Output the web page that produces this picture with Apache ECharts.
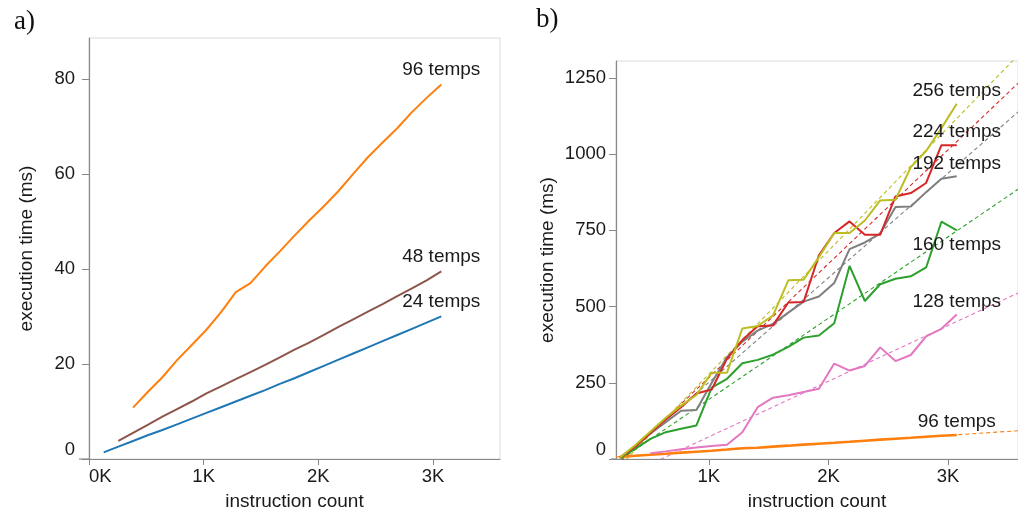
<!DOCTYPE html>
<html>
<head>
<meta charset="utf-8">
<script src="https://cdn.jsdelivr.net/npm/echarts@6/dist/echarts.min.js"></script>
<style>
  html, body { margin: 0; padding: 0; background: #fff; }
  #chart { width: 1018px; height: 519px; }
</style>
</head>
<body>
<div id="chart"></div>
<script>
// Instruction counts of the benchmark programs (x values, shared by both panels)
const instructionCounts = [128, 256, 384, 512, 640, 768, 896, 1024, 1152, 1280, 1408, 1536,
  1664, 1792, 1920, 2048, 2176, 2304, 2432, 2560, 2688, 2816, 2944, 3072];

// Panel a) execution time (ms) with few temporaries
const temps24 = [1.4, 2.6, 3.8, 5.0, 6.1, 7.3, 8.5, 9.7, 10.9, 12.1, 13.3, 14.5,
  15.8, 17.0, 18.3, 19.6, 20.9, 22.2, 23.5, 24.8, 26.1, 27.4, 28.7, 30.0];
const temps48 = [null, 3.8, 5.5, 7.2, 8.9, 10.5, 12.1, 13.8, 15.3, 16.8, 18.3, 19.8,
  21.4, 23.0, 24.5, 26.1, 27.8, 29.4, 31.0, 32.6, 34.3, 35.9, 37.6, 39.5];
const temps96 = [null, null, 10.8, 14.1, 17.2, 20.8, 24.0, 27.2, 30.9, 35.1, 37.0, 40.5,
  43.7, 47.0, 50.2, 53.2, 56.4, 60.0, 63.5, 66.6, 69.6, 73.0, 76.0, 78.8];

// Panel b) execution time (ms) with many temporaries
const temps96b = [null, 6.5, 10.8, 14.1, 17.2, 20.8, 24.0, 27.2, 30.9, 35.1, 37.0, 40.5,
  43.7, 47.0, 50.2, 53.2, 56.4, 60.0, 63.5, 66.6, 69.6, 73.0, 76.0, 78.8];
const temps128 = [null, null, null, 19, 25, 32, 38, 43, 47, 88, 170, 201,
  209, 220, 230, 313, 290, 305, 366, 321, 341, 402, 427, 474];
const temps160 = [null, 3, 33, 66, 88, 99, 110, 234, 263, 314, 325, 342,
  368, 398, 405, 445, 633, 518, 573, 591, 599, 628, 778, 750];
const temps192 = [null, 5, 40, 84, 121, 158, 161, 250, 334, 385, 421, 443,
  480, 516, 533, 577, 688, 710, 739, 826, 828, 875, 919, 927];
const temps224 = [null, 5, 40, 85, 130, 170, 215, 228, 329, 390, 435, 438,
  513, 515, 668, 741, 779, 735, 735, 861, 872, 905, 1029, 1029];
const temps256 = [null, 5, 45, 90, 135, 175, 210, 283, 283, 428, 436, 470,
  586, 588, 662, 741, 741, 782, 848, 850, 957, 1010, 1085, 1165];

// Tick values
const ticksA_x = [0, 1000, 2000, 3000];
const ticksA_y = [0, 20, 40, 60, 80];
const ticksB_x = [1000, 2000, 3000];
const ticksB_y = [0, 250, 500, 750, 1000, 1250];

const FONT = '"Liberation Sans", Arial, sans-serif';
const SERIF = '"Liberation Serif", "DejaVu Serif", serif';
const TEXT = '#1a1a1a';
const AXIS = '#888';
const FRAME = '#dcdcdc';

const extentA = [0, 3584];
const extentB = [224, 3584];

// Pairs x with y, skipping missing values; the last point carries the series label.
function points(ys, name, labelCfg) {
  const out = [];
  ys.forEach((y, i) => { if (y !== null) out.push([instructionCounts[i], y]); });
  const last = out.pop();
  out.push({ value: last, label: Object.assign({
    show: true, formatter: name, fontFamily: FONT, fontSize: 19, color: TEXT,
    position: 'top', distance: 5
  }, labelCfg || {}) });
  return out;
}

// Least-squares straight line through a series, evaluated over the x extent
function fitLine(ys, ext) {
  const xs = [], vs = [];
  ys.forEach((y, i) => { if (y !== null) { xs.push(instructionCounts[i]); vs.push(y); } });
  const n = xs.length;
  const mx = xs.reduce((a, b) => a + b, 0) / n;
  const my = vs.reduce((a, b) => a + b, 0) / n;
  let sxy = 0, sxx = 0;
  for (let i = 0; i < n; i++) { sxy += (xs[i] - mx) * (vs[i] - my); sxx += (xs[i] - mx) ** 2; }
  const slope = sxy / sxx;
  const icpt = my - slope * mx;
  return ext.map(x => [x, icpt + slope * x]);
}

function solid(name, ys, color, grid, labelCfg, width) {
  return {
    type: 'line', name, xAxisIndex: grid, yAxisIndex: grid,
    data: points(ys, name, labelCfg),
    showSymbol: true, symbol: 'circle', symbolSize: 1,
    itemStyle: { color: 'rgba(0,0,0,0)', borderWidth: 0 },
    lineStyle: { color, width: width || 2 },
    labelLayout: { hideOverlap: false },
    emphasis: { disabled: true },
    animation: false, z: 3
  };
}
function fitted(ys, color) {
  return {
    type: 'line', xAxisIndex: 1, yAxisIndex: 1, data: fitLine(ys, extentB),
    symbol: 'none', lineStyle: { color, width: 1.1, type: [4, 3] },
    animation: false, z: 2, silent: true
  };
}

function xAxis(grid, ext, ticks, alignFirst) {
  return {
    type: 'value', gridIndex: grid, min: ext[0], max: ext[1],
    name: 'instruction count', nameLocation: 'middle', nameGap: 33,
    nameTextStyle: { fontFamily: FONT, fontSize: 19, color: TEXT },
    axisLine: { show: true, lineStyle: { color: AXIS, width: 1.2 } },
    axisTick: { show: true, customValues: ticks, length: 6, lineStyle: { color: AXIS } },
    axisLabel: {
      customValues: ticks, formatter: v => (v / 1000) + 'K',
      fontFamily: FONT, fontSize: 18.5, color: TEXT, margin: 8,
      alignMinLabel: alignFirst ? 'left' : null
    },
    splitLine: { show: false }
  };
}
function yAxis(grid, ext, ticks, gap, offset) {
  return {
    type: 'value', gridIndex: grid, min: ext[0], max: ext[1], offset: offset || 0,
    name: 'execution time (ms)', nameLocation: 'middle', nameGap: gap, nameRotate: 90,
    nameTextStyle: { fontFamily: FONT, fontSize: 19, color: TEXT },
    axisLine: { show: true, lineStyle: { color: AXIS, width: 1.2 } },
    axisTick: { show: true, customValues: ticks, length: 7, lineStyle: { color: AXIS } },
    axisLabel: {
      customValues: ticks, formatter: v => String(v),
      fontFamily: FONT, fontSize: 18.5, color: TEXT, margin: 10,
      verticalAlignMinLabel: 'bottom'
    },
    splitLine: { show: false }
  };
}

const labelB = { distance: 3 };

const chart = echarts.init(document.getElementById('chart'), null, { renderer: 'canvas' });
chart.setOption({
  backgroundColor: '#fff',
  animation: false,
  tooltip: { show: false },
  title: [
    { text: 'a)', left: 9, top: 3, textStyle: { fontFamily: SERIF, fontSize: 27, fontWeight: 'normal', color: '#111' } },
    { text: 'b)', left: 531, top: 1, textStyle: { fontFamily: SERIF, fontSize: 27, fontWeight: 'normal', color: '#111' } }
  ],
  grid: [
    { left: 89, top: 38, width: 411, height: 421, show: true, borderColor: FRAME, borderWidth: 1 },
    { left: 616, top: 61, width: 404, height: 398, show: true, borderColor: FRAME, borderWidth: 1 }
  ],
  xAxis: [xAxis(0, extentA, ticksA_x, true), xAxis(1, extentB, ticksB_x, false)],
  yAxis: [yAxis(0, [0, 88.6], ticksA_y, 49, 4), yAxis(1, [0, 1305], ticksB_y, 59, 0)],
  graphic: [
    { type: 'line', shape: { x1: 79, y1: 459, x2: 89, y2: 459 }, style: { stroke: AXIS, lineWidth: 1.2 } },
    { type: 'line', shape: { x1: 611, y1: 459, x2: 616, y2: 459 }, style: { stroke: AXIS, lineWidth: 1.2 } }
  ],
  series: [
    solid('24 temps', temps24, '#1f77b4', 0),
    solid('48 temps', temps48, '#8c564b', 0),
    solid('96 temps', temps96, '#ff7f0e', 0),

    fitted(temps96b, '#ff7f0e'),
    fitted(temps128, '#e377c2'),
    fitted(temps160, '#2ca02c'),
    fitted(temps192, '#7f7f7f'),
    fitted(temps224, '#d62728'),
    fitted(temps256, '#bcbd22'),

    solid('96 temps', temps96b, '#ff7f0e', 1, labelB, 2.6),
    solid('128 temps', temps128, '#e377c2', 1, labelB),
    solid('160 temps', temps160, '#2ca02c', 1, { position: 'bottom', distance: 5 }),
    solid('192 temps', temps192, '#7f7f7f', 1, labelB),
    solid('224 temps', temps224, '#d62728', 1, labelB),
    solid('256 temps', temps256, '#bcbd22', 1, labelB)
  ]
});
</script>
</body>
</html>
